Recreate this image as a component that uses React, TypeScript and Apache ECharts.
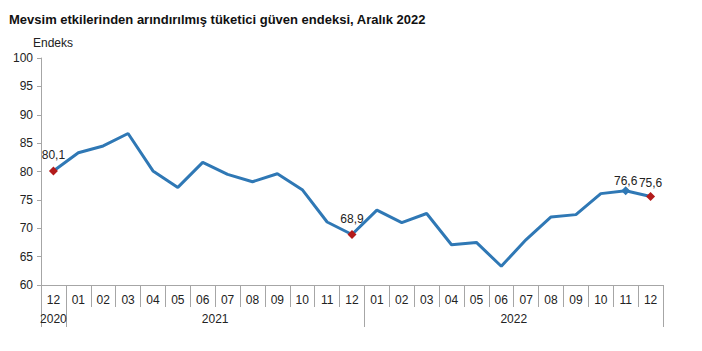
import React, { useEffect, useRef } from "react";
import * as echarts from "echarts";

const titleText = "Mevsim etkilerinden arındırılmış tüketici güven endeksi, Aralık 2022";
const months = ["12","01","02","03","04","05","06","07","08","09","10","11","12","01","02","03","04","05","06","07","08","09","10","11","12"];
const values = [80.1,83.3,84.5,86.7,80.1,77.2,81.6,79.5,78.2,79.6,76.8,71.1,68.9,73.2,71.0,72.6,67.1,67.5,63.3,68.0,72.0,72.4,76.1,76.6,75.6];
const years = ["2020", "2021", "2022"];
const yearSpans = [1, 12, 12];
const redMarks = [0, 12, 24];
const blueMarks = [23];

export default function App() {
  const ref = useRef<HTMLDivElement>(null);
  useEffect(() => {
    if (!ref.current) return;
    const chart = echarts.init(ref.current, undefined, { renderer: "svg" });
    const font = "'Liberation Sans', Arial, sans-serif";
    const lineColor = "#2f78b5";
    const red = "#b31b1b";
    const axisGray = "#a6a6a6";

    const bounds: number[] = [0];
    const centers: number[] = [];
    yearSpans.forEach((s) => {
      const start = bounds[bounds.length - 1];
      centers.push(start + s / 2);
      bounds.push(start + s);
    });

    const labelDistance = (i: number) => (i === 23 ? -1 : i === 24 ? 3 : 5);

    const data = values.map((v, i) => {
      if (redMarks.includes(i) || blueMarks.includes(i)) {
        return {
          value: v,
          symbol: "diamond",
          symbolSize: 9,
          itemStyle: { color: redMarks.includes(i) ? red : lineColor },
          label: {
            show: true,
            position: "top",
            distance: labelDistance(i),
            formatter: (p: any) => String(p.value.toFixed(1)).replace(".", ","),
            fontFamily: font,
            fontSize: 12,
            color: "#222",
          },
        };
      }
      return { value: v, symbol: "none" };
    });

    chart.setOption({
      animation: false,
      title: {
        text: titleText,
        left: 4,
        top: 8,
        textStyle: { fontFamily: font, fontSize: 13, fontWeight: "bold", color: "#111" },
      },
      grid: { left: 41, right: 39, top: 58, bottom: 66 },
      xAxis: [
        {
          type: "category",
          data: months,
          boundaryGap: true,
          axisLine: { lineStyle: { color: axisGray } },
          axisTick: { show: true, interval: 0, length: 22, lineStyle: { color: axisGray } },
          axisLabel: { interval: 0, margin: 9, fontFamily: font, fontSize: 12, color: "#222" },
        },
        {
          type: "value",
          min: 0,
          max: months.length,
          position: "bottom",
          splitLine: { show: false },
          axisLine: { show: false },
          axisTick: {
            show: true,
            length: 42,
            customValues: bounds,
            lineStyle: { color: axisGray },
          },
          axisLabel: {
            margin: 28,
            customValues: centers,
            fontFamily: font,
            fontSize: 12,
            color: "#222",
            formatter: (v: number) => {
              const i = centers.findIndex((c) => Math.abs(c - v) < 1e-6);
              return i >= 0 ? years[i] : "";
            },
          },
        },
      ],
      yAxis: {
        type: "value",
        min: 60,
        max: 100,
        interval: 5,
        name: "Endeks",
        nameLocation: "end",
        nameGap: 9,
        nameTextStyle: { fontFamily: font, fontSize: 12, color: "#222", align: "center", padding: [0, 0, 0, 24] },
        splitLine: { show: false },
        axisLine: { show: true, lineStyle: { color: axisGray } },
        axisTick: { show: true, length: 4, lineStyle: { color: axisGray } },
        axisLabel: { margin: 8, fontFamily: font, fontSize: 12, color: "#222" },
      },
      series: [
        {
          type: "line",
          xAxisIndex: 0,
          data,
          lineStyle: { color: lineColor, width: 3 },
          itemStyle: { color: lineColor },
          symbol: "none",
          showSymbol: true,
          z: 3,
        },
      ],
    });
    return () => chart.dispose();
  }, []);
  return (
    <div
      ref={ref}
      style={{ position: "fixed", left: 0, top: 0, width: 702, height: 351, background: "#fff" }}
    />
  );
}
